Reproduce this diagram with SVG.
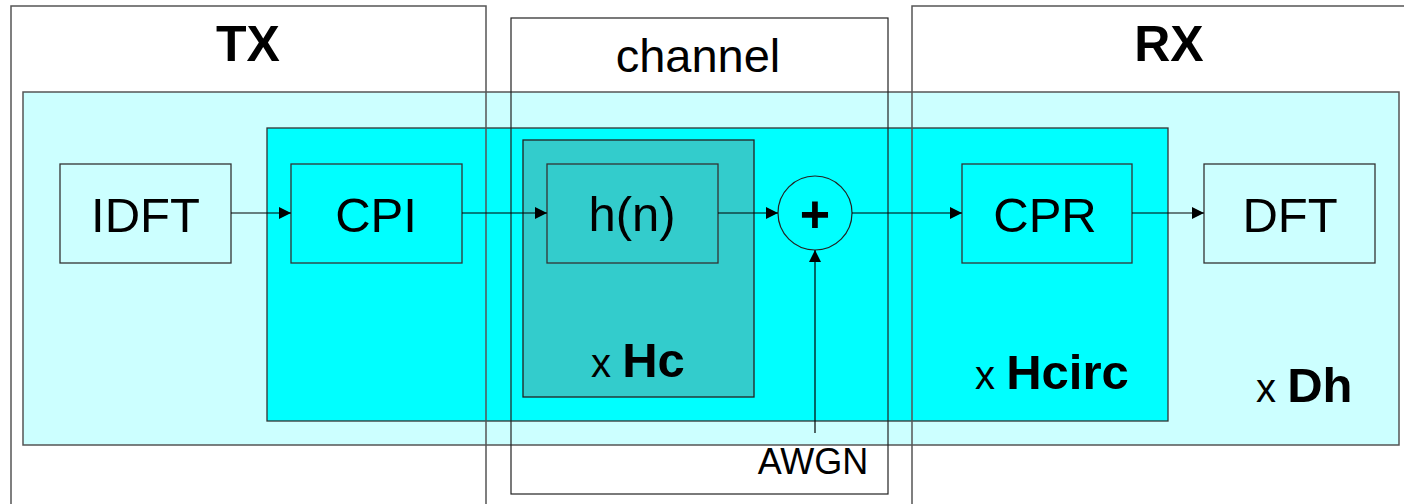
<svg xmlns="http://www.w3.org/2000/svg" width="1404" height="504" viewBox="0 0 1404 504">
<style>
.frame{fill:none;stroke:#555;stroke-width:1.5}
.frame2{fill:none;stroke:#222;stroke-width:1.2}
.blk{stroke:#333;stroke-width:1.3}
.t{font-family:"Liberation Sans",Arial,sans-serif;fill:#000}
.c{text-anchor:middle}
.big{font-size:49px}
.hd{font-size:50px;font-weight:bold}
.b{font-weight:bold}
.con{fill:none;stroke:#000;stroke-width:1.2}
</style>
<defs>
<marker id="ah" markerWidth="12" markerHeight="12" refX="12" refY="6" orient="auto" markerUnits="userSpaceOnUse">
<path d="M0,0 L12,6 L0,12 z" fill="#000"/>
</marker>
</defs>
<rect width="1404" height="504" fill="#fff"/>
<g id="region-Dh">
<rect x="23" y="92" width="1376" height="353" fill="#CCFFFF" stroke="#555" stroke-width="1.5"/>
<text class="t" x="1256" y="402" font-size="40">x <tspan class="b" font-size="49">Dh</tspan></text>
</g>
<g id="region-Hcirc">
<rect x="267" y="128" width="901" height="293" fill="#00FFFF" stroke="#333" stroke-width="1.3"/>
<text class="t" x="975" y="389" font-size="40">x <tspan class="b" font-size="49">Hcirc</tspan></text>
</g>
<g id="region-Hc">
<rect x="523" y="140" width="231" height="257" fill="#33CCCC" stroke="#222" stroke-width="1.3"/>
<text class="t" x="591" y="377" font-size="40">x <tspan class="b" font-size="49">Hc</tspan></text>
</g>
<g id="tx">
<rect class="frame" x="11" y="6" width="475" height="510"/>
<text class="t hd c" x="248" y="61">TX</text>
</g>
<g id="channel">
<rect class="frame2" x="511" y="18" width="377" height="476"/>
<text class="t c" x="698" y="72" font-size="47">channel</text>
</g>
<g id="rx">
<rect class="frame" x="912" y="6" width="510" height="510"/>
<text class="t hd c" x="1169" y="61">RX</text>
</g>
<g id="idft">
<rect class="blk" x="60" y="164" width="171" height="99" fill="#CCFFFF"/>
<text class="t big c" x="145.5" y="232">IDFT</text>
</g>
<g id="cpi">
<rect class="blk" x="291" y="164" width="171" height="99" fill="#00FFFF"/>
<text class="t big c" x="376" y="232">CPI</text>
</g>
<g id="hn">
<rect class="blk" x="547" y="164" width="171" height="99" fill="#33CCCC"/>
<text class="t big c" x="632" y="231">h(n)</text>
</g>
<g id="sum">
<circle cx="815" cy="213" r="37" fill="#00FFFF" stroke="#222" stroke-width="1.2"/>
<text class="t c b" x="815" y="232" font-size="52">+</text>
</g>
<g id="cpr">
<rect class="blk" x="962" y="164" width="170" height="99" fill="#00FFFF"/>
<text class="t big c" x="1045" y="232">CPR</text>
</g>
<g id="dft">
<rect class="blk" x="1204" y="164" width="171" height="99" fill="#CCFFFF"/>
<text class="t big c" x="1290" y="232">DFT</text>
</g>
<g id="awgn">
<text class="t c" x="813" y="474" font-size="36">AWGN</text>
</g>
<g id="connectors">
<line class="con" x1="231" y1="213" x2="291" y2="213" marker-end="url(#ah)"/>
<line class="con" x1="462" y1="213" x2="547" y2="213" marker-end="url(#ah)"/>
<line class="con" x1="718" y1="213" x2="778" y2="213" marker-end="url(#ah)"/>
<line class="con" x1="852" y1="213" x2="962" y2="213" marker-end="url(#ah)"/>
<line class="con" x1="1132" y1="213" x2="1204" y2="213" marker-end="url(#ah)"/>
<line class="con" x1="815" y1="433" x2="815" y2="250" marker-end="url(#ah)"/>
</g>
</svg>
